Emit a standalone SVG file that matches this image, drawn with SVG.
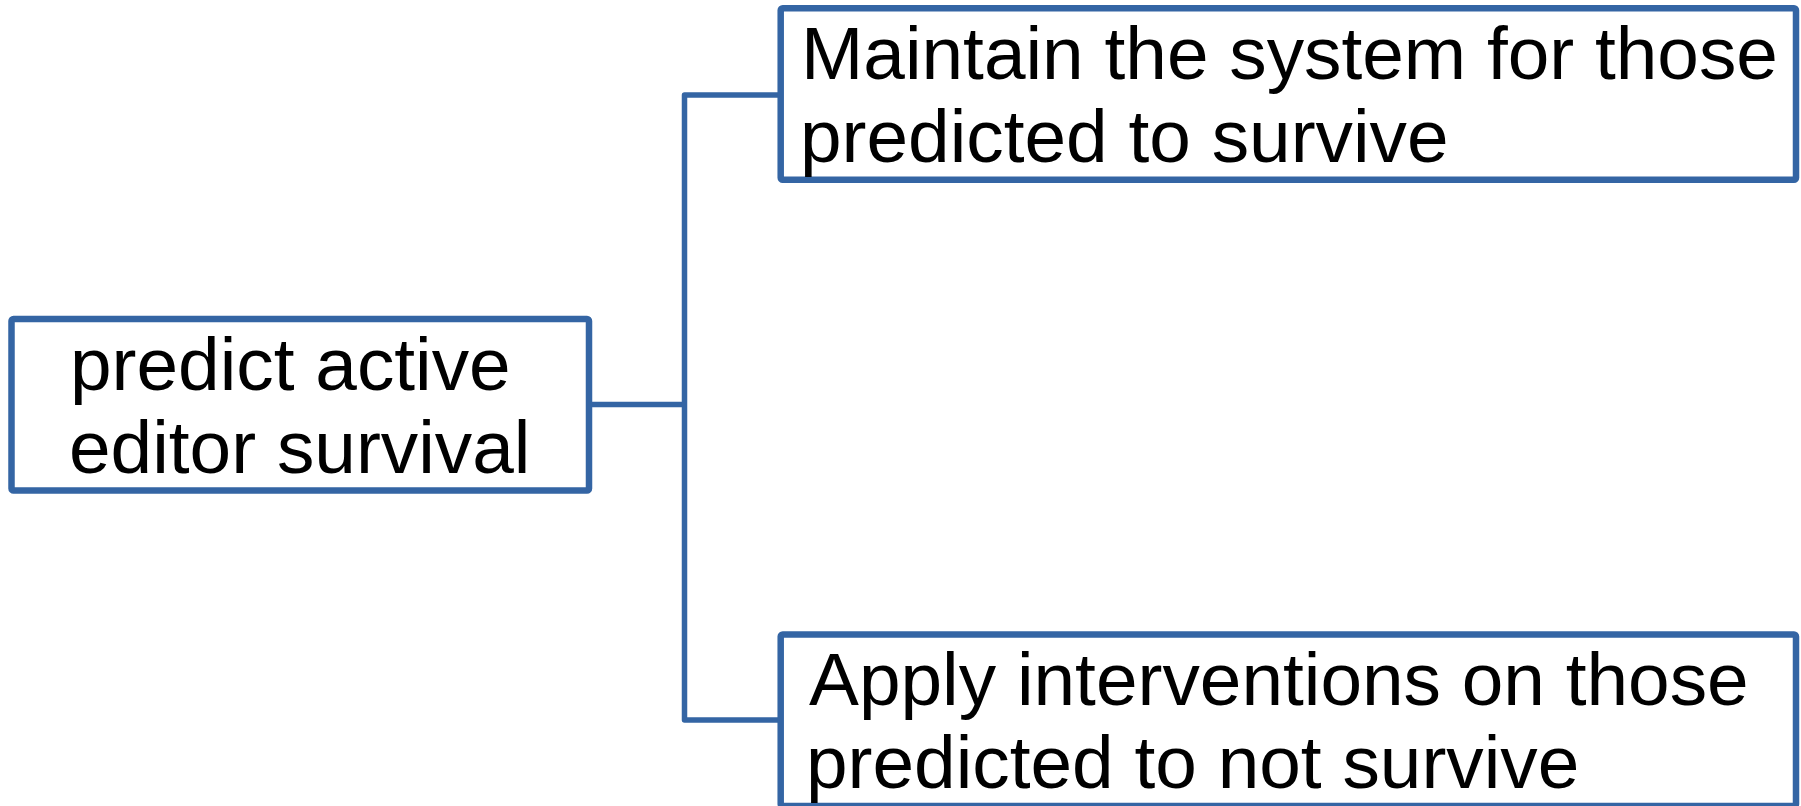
<svg xmlns="http://www.w3.org/2000/svg" width="1801" height="806" viewBox="0 0 1801 806">
  <style>
    .box { fill: #ffffff; stroke: #3465a4; stroke-width: 6.5; stroke-linejoin: round; }
    .conn { fill: none; stroke: #3465a4; stroke-width: 5.5; stroke-linejoin: round; stroke-linecap: butt; }
    .lbl { font-family: "Liberation Sans", Arial, sans-serif; font-size: 74.8px; fill: #000000; }
  </style>
  <rect width="1801" height="806" fill="#ffffff"/>
  <g id="connectors">
    <path class="conn" d="M589 404.5 H684.5"/>
    <path class="conn" d="M780.5 95 H684.5 V720 H780.5"/>
  </g>
  <g id="node-predict">
    <rect class="box" x="11.5" y="319" width="577.5" height="171.5" rx="2"/>
    <text class="lbl"><tspan x="70" y="390">predict active</tspan><tspan x="69" y="473">editor survival</tspan></text>
  </g>
  <g id="node-maintain">
    <rect class="box" x="780.7" y="8.3" width="1015.3" height="171.4" rx="2"/>
    <text class="lbl"><tspan x="801" y="79">Maintain the system for those</tspan><tspan x="800" y="162">predicted to survive</tspan></text>
  </g>
  <g id="node-apply">
    <rect class="box" x="780.7" y="634.5" width="1015.3" height="171.5" rx="2"/>
    <text class="lbl"><tspan x="809" y="705">Apply interventions on those</tspan><tspan x="806" y="788">predicted to not survive</tspan></text>
  </g>
</svg>
